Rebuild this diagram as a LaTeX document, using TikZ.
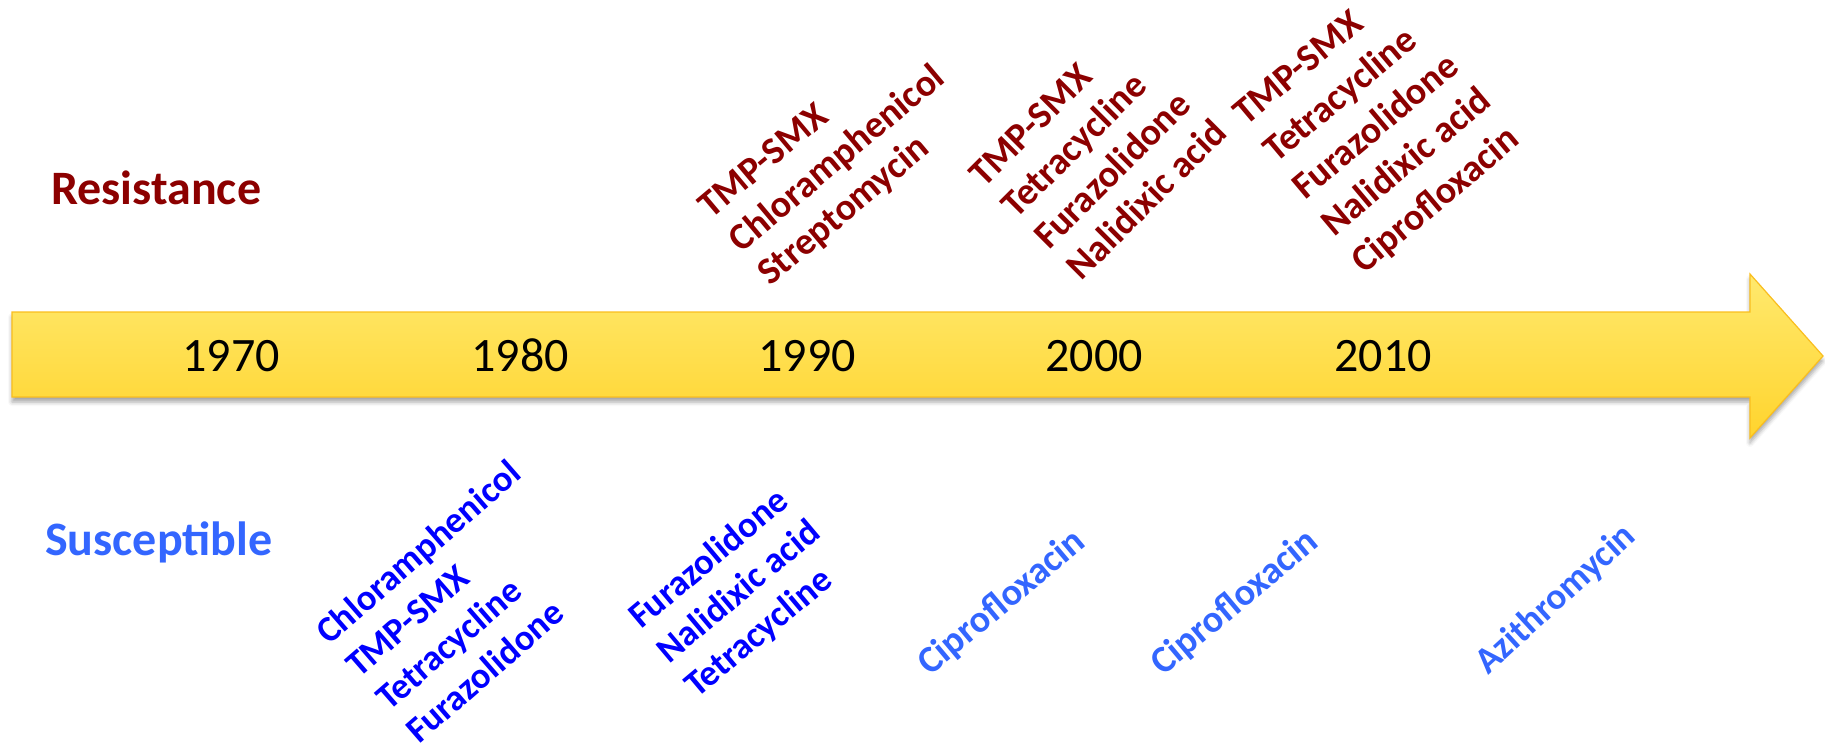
\documentclass[tikz,border=0pt]{standalone}
\usepackage{fontspec}
\setmainfont{Carlito}
\usetikzlibrary{shadows.blur}
\definecolor{resred}{RGB}{140,0,0}
\definecolor{susblue}{RGB}{51,102,255}
\definecolor{deepblue}{RGB}{0,0,255}
\definecolor{arrowtop}{RGB}{255,233,110}
\definecolor{arrowbot}{RGB}{255,212,45}
\definecolor{arrowedge}{RGB}{250,190,30}
\begin{document}
\begin{tikzpicture}[x=1pt,y=-1pt,
  drug/.style={anchor=base west, inner sep=0pt, font=\fontsize{38}{45}\selectfont\bfseries},
  smalldrug/.style={anchor=base west, inner sep=0pt, font=\fontsize{36.5}{44}\selectfont\bfseries},
  redrug/.style={drug, text=resred},
  dbdrug/.style={smalldrug, text=deepblue},
  lbdrug/.style={drug, text=susblue},
  yearlabel/.style={anchor=base, inner sep=0pt, font=\fontsize{48}{56}\selectfont},
  heading/.style={anchor=base west, inner sep=0pt, font=\fontsize{48}{56}\selectfont\bfseries}]
\useasboundingbox (0,0) rectangle (1825,745);
% timeline arrow
\shade[top color=arrowtop, bottom color=arrowbot, draw=arrowedge, line width=1.2pt,
  blur shadow={shadow xshift=0pt, shadow yshift=-5pt, shadow blur radius=4pt, shadow opacity=35}]
  (12,312) -- (1750,312) -- (1750,274) -- (1823,356) -- (1750,438) -- (1750,397) -- (12,397) -- cycle;
% years
\node[yearlabel] (y1970) at (231,371) {1970};
\node[yearlabel] (y1980) at (520,371) {1980};
\node[yearlabel] (y1990) at (807,371) {1990};
\node[yearlabel] (y2000) at (1094,371) {2000};
\node[yearlabel] (y2010) at (1383,371) {2010};
% headings
\node[heading, text=resred] (res) at (51,204) {Resistance};
\node[heading, text=susblue] (sus) at (45,555) {Susceptible};
% resistance 1990
\node[redrug, rotate=40] (r90a) at (711,220) {TMP-SMX};
\node[redrug, rotate=40] (r90b) at (741.5,253.5) {Chloramphenicol};
\node[redrug, rotate=40] (r90c) at (770,287) {Streptomycin};
% resistance 2000
\node[redrug, rotate=45] (r00a) at (984,189) {TMP-SMX};
\node[redrug, rotate=45] (r00b) at (1016.5,220) {Tetracycline};
\node[redrug, rotate=45] (r00c) at (1049,251) {Furazolidone};
\node[redrug, rotate=45] (r00d) at (1081.5,282) {Nalidixic acid};
% resistance 2010
\node[redrug, rotate=40] (r10a) at (1246,127) {TMP-SMX};
\node[redrug, rotate=40] (r10b) at (1276,164) {Tetracycline};
\node[redrug, rotate=40] (r10c) at (1305,201) {Furazolidone};
\node[redrug, rotate=40] (r10d) at (1334,238) {Nalidixic acid};
\node[redrug, rotate=40] (r10e) at (1364,275) {Ciprofloxacin};
% susceptible 1980
\node[dbdrug, rotate=41] (s80a) at (329,646) {Chloramphenicol};
\node[dbdrug, rotate=41] (s80b) at (359,679) {TMP-SMX};
\node[dbdrug, rotate=41] (s80c) at (389,712) {Tetracycline};
\node[dbdrug, rotate=41] (s80d) at (419,745) {Furazolidone};
% susceptible 1990
\node[dbdrug, rotate=40] (s90a) at (641,630) {Furazolidone};
\node[dbdrug, rotate=40] (s90b) at (669,664.5) {Nalidixic acid};
\node[dbdrug, rotate=40] (s90c) at (697,699) {Tetracycline};
% susceptible later
\node[lbdrug, rotate=40] (s00) at (930,677) {Ciprofloxacin};
\node[lbdrug, rotate=40] (s10) at (1163,677) {Ciprofloxacin};
\node[lbdrug, rotate=42.5, font=\fontsize{37}{44}\selectfont\bfseries] (s20) at (1488,676) {Azithromycin};
\end{tikzpicture}
\end{document}
